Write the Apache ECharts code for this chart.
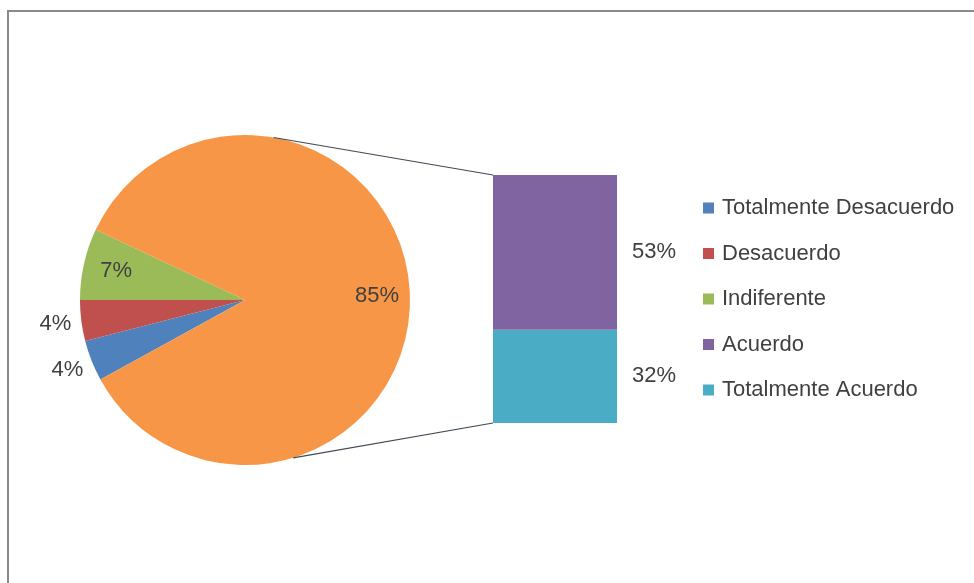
<!DOCTYPE html>
<html>
<head>
<meta charset="utf-8">
<script src="https://cdn.jsdelivr.net/npm/echarts@6/dist/echarts.min.js"></script>
<style>
  html, body { margin: 0; padding: 0; background: #ffffff; }
  #chart { width: 974px; height: 583px; }
</style>
</head>
<body>
<div id="chart"></div>
<script>
// Pie slices (percent) – the last slice groups the two "acuerdo" answers
const pieNames = ['Totalmente Desacuerdo', 'Desacuerdo', 'Indiferente'];
const pieValues = [4, 4, 7];
// Stacked bar that breaks down the grouped slice (bottom to top)
const barNames = ['Totalmente Acuerdo', 'Acuerdo'];
const barValues = [32, 53];
const legendOrder = ['Totalmente Desacuerdo', 'Desacuerdo', 'Indiferente', 'Acuerdo', 'Totalmente Acuerdo'];

const colors = {
  'Totalmente Desacuerdo': '#4F81BD',
  'Desacuerdo': '#C0504D',
  'Indiferente': '#9BBB59',
  'Otros': '#F79646',
  'Acuerdo': '#8064A2',
  'Totalmente Acuerdo': '#4BACC6'
};

const FONT = "'Liberation Sans', Arial, sans-serif";
const TEXT = '#404040';
const FS = 22;

// layout
const CX = 245, CY = 300, R = 165;
const BAR = { left: 493, top: 175, width: 124, height: 248 };

const groupedValue = barValues.reduce((a, b) => a + b, 0);
const sliceValues = pieValues.concat([groupedValue]);
const sliceNames = pieNames.concat(['Otros']);
const total = sliceValues.reduce((a, b) => a + b, 0);
// first two slices sit just below the horizontal left radius
const startAngle = 180 + (sliceValues[0] + sliceValues[1]) / total * 360;

// label anchor for each slice: small slices outside, others inside
function sliceLabelPoint(i) {
  let cum = 0;
  for (let k = 0; k < i; k++) cum += sliceValues[k];
  const mid = (startAngle - (cum + sliceValues[i] / 2) / total * 360) * Math.PI / 180;
  const rl = sliceValues[i] < 5 ? R + 26 : R * 0.8;
  return { x: CX + rl * Math.cos(mid), y: CY - rl * Math.sin(mid) };
}

function circlePoint(deg) {
  const a = deg * Math.PI / 180;
  return [CX + R * Math.cos(a), CY - R * Math.sin(a)];
}

const chart = echarts.init(document.getElementById('chart'), null, { renderer: 'canvas' });

const topStart = circlePoint(80);
const botStart = circlePoint(-73);

chart.setOption({
  animation: false,
  backgroundColor: '#ffffff',
  legend: {
    orient: 'vertical',
    left: 703,
    top: 197,
    padding: 0,
    itemWidth: 11,
    itemHeight: 11,
    itemGap: 23.5,
    icon: 'rect',
    selectedMode: false,
    data: legendOrder,
    textStyle: { fontFamily: FONT, fontSize: FS, color: TEXT, padding: [0, 0, 0, 3] }
  },
  grid: { left: BAR.left, top: BAR.top, width: BAR.width, height: BAR.height },
  xAxis: { type: 'category', data: [''], show: false },
  yAxis: { type: 'value', min: 0, max: groupedValue, show: false },
  graphic: [
    {
      type: 'rect', silent: true,
      shape: { x: 8, y: 11, width: 1000, height: 620 },
      style: { fill: 'none', stroke: '#8a8a8a', lineWidth: 2 }
    },
    {
      type: 'line', silent: true, z: 10,
      shape: { x1: topStart[0], y1: topStart[1], x2: BAR.left, y2: BAR.top },
      style: { stroke: '#404a55', lineWidth: 1.2 }
    },
    {
      type: 'line', silent: true, z: 10,
      shape: { x1: botStart[0], y1: botStart[1], x2: BAR.left, y2: BAR.top + BAR.height },
      style: { stroke: '#404a55', lineWidth: 1.2 }
    }
  ],
  series: [
    {
      type: 'pie',
      center: [CX, CY],
      radius: [0, R],
      startAngle: startAngle,
      clockwise: true,
      avoidLabelOverlap: false,
      emphasis: { disabled: true },
      data: sliceNames.map((n, i) => ({
        name: n, value: sliceValues[i], itemStyle: { color: colors[n] }
      })),
      label: {
        show: true,
        position: 'inside',
        formatter: p => p.value + '%',
        fontFamily: FONT, fontSize: FS, color: TEXT
      },
      labelLine: { show: false },
      labelLayout: function (p) {
        const pt = sliceLabelPoint(p.dataIndex);
        return { x: pt.x, y: pt.y, align: 'center', verticalAlign: 'middle' };
      }
    }
  ].concat(barNames.map((n, i) => ({
    type: 'bar',
    name: n,
    stack: 'grupo',
    barWidth: '100%',
    data: [barValues[i]],
    itemStyle: { color: colors[n] },
    emphasis: { disabled: true },
    label: {
      show: true,
      position: 'right',
      distance: 15,
      formatter: p => p.value + '%',
      fontFamily: FONT, fontSize: FS, color: TEXT
    }
  })))
});
</script>
</body>
</html>
